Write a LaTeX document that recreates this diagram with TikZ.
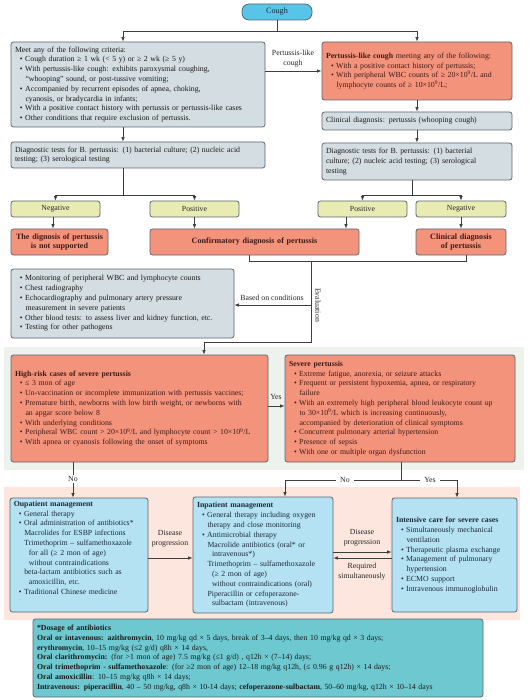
\documentclass[tikz,border=0pt]{standalone}
\usepackage{fontspec}
\setmainfont{Liberation Serif}
\usetikzlibrary{arrows.meta}
\definecolor{coughc}{HTML}{58C4E8}
\definecolor{grayf}{HTML}{D4DDE2}
\definecolor{edgec}{HTML}{5B6670}
\definecolor{orf}{HTML}{F4937C}
\definecolor{yelf}{HTML}{E8ECB2}
\definecolor{bluef}{HTML}{B4E2F2}
\definecolor{dosf}{HTML}{6EC8D0}
\definecolor{pgreen}{HTML}{EEF2EC}
\definecolor{ppink}{HTML}{FCE6DD}
\definecolor{linec}{HTML}{3E3E3E}
\definecolor{ortext}{HTML}{3F1A14}
\definecolor{bltext}{HTML}{1C2A3A}
\newcommand{\mybu}{\hspace*{5pt}\textbullet\hspace{2.5pt}}
\newcommand{\myct}{\hspace*{10.5pt}}
\newcommand{\mysi}{\hspace*{10.5pt}}
\newcommand{\mysc}{\hspace*{15pt}}
\newcommand{\tn}{\textsuperscript{9}}
\tikzset{
  sz/.code 2 args={\pgfmathsetmacro\mytw{#1-8}\edef\mytmp{\noexpand\tikzset{minimum width=#1pt, minimum height=#2pt, text width=\mytw pt}}\mytmp},
  box/.style={draw=edgec, line width=0.8pt, rounded corners=2.5pt, inner xsep=4pt, inner ysep=2pt, align=left},
  graybox/.style={box, fill=grayf, text=black!90},
  orbox/.style={box, fill=orf, text=ortext},
  ttlbox/.style={box, fill=orf, text=ortext, align=center, font=\fontsize{8.1}{9.8}\selectfont\bfseries},
  yelbox/.style={box, fill=yelf, align=center, text=black!85},
  bluebox/.style={box, fill=bluef, text=bltext},
  dosbox/.style={box, fill=dosf, text=black!90},
  coughbox/.style={draw=edgec, line width=0.8pt, fill=coughc, rounded corners=7pt, minimum width=70pt, minimum height=16pt, font=\fontsize{8.2}{9}\selectfont, text=bltext},
  lbl/.style={align=center, inner sep=1pt, text=black!85},
  conn/.style={draw=linec, line width=0.7pt},
  arr/.style={conn, -{Latex[length=4.5pt,width=3.5pt]}},
}
\begin{document}
\begin{tikzpicture}[x=1pt,y=-1pt,font=\fontsize{7.8}{9.8}\selectfont]
\useasboundingbox (0,0) rectangle (529,700);
\fill[white] (0,0) rectangle (529,700);
% panels
\fill[pgreen] (4,347) rectangle (524,470);
\fill[ppink] (4,487) rectangle (520,620);

% top
\node[coughbox] (cough) at (277,12) {Cough};
\node[graybox, sz={254}{85}] (crit) at (138,84.5) {Meet any of the following criteria:\\
\mybu Cough duration ≥ 1 wk (< 5 y) or ≥ 2 wk (≥ 5 y)\\
\mybu With pertussis-like cough: exhibits paroxysmal coughing,\\
\myct ``whooping'' sound, or post-tussive vomiting;\\
\mybu Accompanied by recurrent episodes of apnea, choking,\\
\myct cyanosis, or bradycardia in infants;\\
\mybu With a positive contact history with pertussis or pertussis-like cases\\
\mybu Other conditions that require exclusion of pertussis.};
\node[graybox, sz={254}{26}] (diagL) at (138,155) {Diagnostic tests for B. pertussis: (1) bacterial culture; (2) nucleic acid\\testing; (3) serological testing};
\node[orbox, sz={190}{58}] (plc) at (417,71) {\textbf{Pertussis-like cough} meeting any of the following:\\
\mybu With a positive contact history of pertussis;\\
\mybu With peripheral WBC counts of ≥ 20×10\tn/L and\\
\myct lymphocyte counts of ≥ 10×10\tn/L;};
\node[graybox, sz={190}{18}] (clin) at (417,121) {Clinical diagnosis: pertussis (whooping cough)};
\node[graybox, sz={190}{37}] (diagR) at (417,161.5) {Diagnostic tests for B. pertussis: (1) bacterial\\culture; (2) nucleic acid testing; (3) serological\\testing};

% results
\node[yelbox, sz={89}{16}] (negL) at (55.5,209) {Negative};
\node[yelbox, sz={89}{16}] (posL) at (194.5,209) {Positive};
\node[yelbox, sz={89}{16}] (posR) at (362.5,209) {Positive};
\node[yelbox, sz={90}{16}] (negR) at (461,209) {Negative};
\node[ttlbox, sz={97}{26}] (notsup) at (59.5,242) {The dignosis of pertussis\\is not supported};
\node[ttlbox, sz={209}{26}] (conf) at (254.5,242) {Confirmatory diagnosis of pertussis};
\node[ttlbox, sz={90}{26}] (clind) at (461,242) {Clinical diagnosis\\of pertussis};

\node[graybox, sz={223}{69}] (mon) at (122.5,303.5) {\mybu Monitoring of peripheral WBC and lymphocyte counts\\
\mybu Chest radiography\\
\mybu Echocardiography and pulmonary artery pressure\\
\myct measurement in severe patients\\
\mybu Other blood tests: to assess liver and kidney function, etc.\\
\mybu Testing for other pathogens};

% severity
\node[orbox, sz={257}{107}] (high) at (139.5,408.5) {\textbf{High-risk cases of severe pertussis}\\
\mybu ≤ 3 mon of age\\
\mybu Un-vaccination or incomplete immunization with pertussis vaccines;\\
\mybu Premature birth, newborns with low birth weight, or newborns with\\
\myct an apgar score below 8\\
\mybu With underlying conditions\\
\mybu Peripheral WBC count > 20×10\tn/L and lymphocyte count > 10×10\tn/L\\
\mybu With apnea or cyanosis following the onset of symptoms};
\node[orbox, sz={230}{107}] (sev) at (400,408.5) {\textbf{Severe pertussis}\\
\mybu Extreme fatigue, anorexia, or seizure attacks\\
\mybu Frequent or persistent hypoxemia, apnea, or respiratory\\
\myct failure\\
\mybu With an extremely high peripheral blood leukocyte count up\\
\myct to 30×10\tn/L which is increasing continuously,\\
\myct accompanied by deterioration of clinical symptoms\\
\mybu Concurrent pulmonary arterial hypertension\\
\mybu Presence of sepsis\\
\mybu With one or multiple organ dysfunction};

% management
\node[bluebox, minimum width=138pt, minimum height=114pt] (outp) at (79,555) {};
\node[anchor=north west, align=left, text width=131pt, inner xsep=4pt, inner ysep=3pt, text=bltext] (outpT) at (outp.north west) {\textbf{Oupatient management}\\
\mybu General therapy\\
\mybu Oral administration of antibiotics*\\
\mysi Macrolides for ESBP infections\\
\mysi Trimethoprim -- sulfamethoxazole\\
\mysc for all (≥ 2 mon of age)\\
\mysc without contraindications\\
\mysi beta-lactam antibiotics such as\\
\mysc amoxicillin, etc.\\
\mybu Traditional Chinese medicine};
\node[bluebox, sz={140}{116}] (inp) at (263,555) {\textbf{Inpatient management}\\
\mybu General therapy including oxygen\\
\myct therapy and close monitoring\\
\mybu Antimicrobial therapy\\
\mysi Macrolide antibiotics (oral* or\\
\mysc intravenous*)\\
\mysi Trimethoprim -- sulfamethoxazole\\
\mysc (≥ 2 mon of age)\\
\mysc without contraindications (oral)\\
\mysi Piperacillin or cefoperazone-\\
\mysc sulbactam (intravenous)};
\node[bluebox, sz={125}{114}] (intens) at (454.5,555) {\textbf{Intensive care for severe cases}\\
\mybu Simultaneously mechanical\\
\myct ventilation\\
\mybu Therapeutic plasma exchange\\
\mybu Management of pulmonary\\
\myct hypertension\\
\mybu ECMO support\\
\mybu Intravenous immunoglobulin};

\node[dosbox, sz={450}{78}] (dos) at (258,658) {\textbf{*Dosage of antibiotics}\\
\textbf{Oral or intavenous: azithromycin}, 10 mg/kg qd × 5 days, break of 3--4 days, then 10 mg/kg qd × 3 days;\\
\textbf{erythromycin}, 10--15 mg/kg (≤2 g/d) q8h × 14 days,\\
\textbf{Oral clarithromycin:} (for >1 mon of age) 7.5 mg/kg (≤1 g/d) , q12h × (7--14) days;\\
\textbf{Oral trimethoprim - sulfamethoxazole}: (for ≥2 mon of age) 12--18 mg/kg q12h, (≤ 0.96 g q12h) × 14 days;\\
\textbf{Oral amoxicillin}: 10--15 mg/kg q8h × 14 days;\\
\textbf{Intravenous: piperacillin}, 40 -- 50 mg/kg, q8h × 10-14 days; \textbf{cefoperazone-sulbactam}, 50--60 mg/kg, q12h × 10--14 days};

% connectors top
\coordinate (j1) at (277,31);
\coordinate (a1) at (123,31);
\coordinate (a2) at (417,31);
\draw[conn] (cough.south) -- (j1);
\draw[arr] (j1) -- (a1) -- (a1 |- crit.north);
\draw[arr] (j1) -- (a2) -- (a2 |- plc.north);
\draw[arr] (a1 |- crit.south) -- (a1 |- diagL.north);
\coordinate (k1) at (300,71);
\draw[arr] (crit.east |- k1) -- (plc.west |- k1);
\node[lbl] (lplc) at (293,58.5) {Pertussis-like\\cough};
\draw[arr] (plc.south) -- (clin.north);
\draw[arr] (clin.south) -- (diagR.north);

\coordinate (b1) at (123,195);
\draw[conn] (b1 |- diagL.south) -- (b1);
\draw[arr] (b1) -| (negL.north);
\draw[arr] (b1) -| (posL.north);
\coordinate (b2) at (412,195);
\draw[conn] (b2 |- diagR.south) -- (b2);
\draw[arr] (b2) -| (posR.north);
\draw[arr] (b2) -| (negR.north);

\coordinate (c1) at (53,225);
\coordinate (c2) at (346,225);
\draw[arr] (c1 |- negL.south) -- (c1 |- notsup.north);
\draw[arr] (posL.south) -- (posL.south |- conf.north);
\draw[arr] (c2 |- posR.south) -- (c2 |- conf.north);
\draw[arr] (negR.south) -- (negR.south |- clind.north);

\coordinate (d1) at (249,261);
\coordinate (d2) at (466,261);
\draw[conn] (d1 |- conf.south) -- (d1) -- (d2) -- (d2 |- clind.south);
\coordinate (e1) at (311,261);
\coordinate (e2) at (311,342);
\coordinate (e3) at (204,342);
\coordinate (e4) at (311,305);
\draw[arr] (e1) -- (e2) -- (e3) -- (e3 |- high.north);
\draw[arr] (e4) -- (mon.east |- e4);
\node[lbl] (lbas) at (272,297.5) {Based on conditions};
\node[lbl, rotate=-90] (leva) at (318,305) {Evaluation};

% severity connectors
\coordinate (f1) at (270,406);
\draw[arr] (high.east |- f1) -- (sev.west |- f1);
\node[lbl] (lyes1) at (276,397) {Yes};
\coordinate (g1) at (73,470);
\draw[arr] (g1 |- high.south) -- (g1 |- outp.north);
\node[lbl, fill=white] (lno1) at (73,479) {No};
\coordinate (h1) at (401,480);
\coordinate (h2) at (285,480);
\coordinate (h3) at (457,480);
\draw[conn] (h1 |- sev.south) -- (h1);
\draw[arr] (h1) -- (h2) -- (h2 |- inp.north);
\draw[arr] (h1) -- (h3) -- (h3 |- intens.north);
\node[lbl, fill=white, inner xsep=4pt] (lno2) at (345,480) {No};
\node[lbl, fill=white, inner xsep=4pt] (lyes2) at (430,480) {Yes};

% management connectors
\coordinate (i1) at (170,558);
\draw[arr] (outp.east |- i1) -- (inp.west |- i1);
\node[lbl] (ldp1) at (170,539) {Disease\\progression};
\coordinate (i2) at (362,552);
\coordinate (i3) at (362,558);
\draw[arr] (inp.east |- i2) -- (intens.west |- i2);
\draw[arr] (intens.west |- i3) -- (inp.east |- i3);
\node[lbl] (ldp2) at (362,538) {Disease\\progression};
\node[lbl] (lreq) at (362,572) {Required\\simultaneously};
\end{tikzpicture}
\end{document}
